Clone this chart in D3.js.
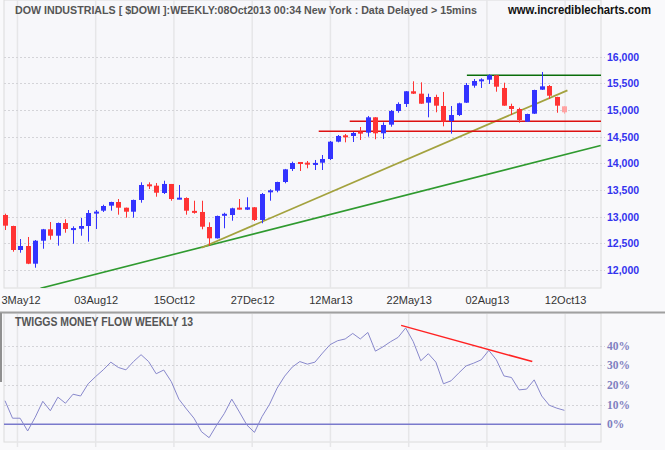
<!DOCTYPE html>
<html>
<head>
<meta charset="utf-8">
<script src="https://cdn.jsdelivr.net/npm/d3@7"></script>
<style>
  html, body { margin: 0; padding: 0; background: #f9f9fb; }
  svg { display: block; }
</style>
</head>
<body>
<div id="chart"></div>
<script>
// ---------- DATA (weekly candles, index 0 = first visible week) ----------
const opens  = [13031,12825,12375,12450,12118,12549,12763,12643,12881,12760,
                12774,12825,13070,13112,13206,13275,13168,13093,13313,13594,
                13581,13444,13613,13331,13350,13106,13088,12806,12594,13026,
                13031,13163,13131,13176,12938,13463,13487,13650,13894,14012,
                14001,13985,14012,14081,14406,14513,14513,14580,14575,14863,
                14563,14725,14981,15113,15351,15306,15137,15244,15075,14794,
                14906,15137,15456,15549,15568,15651,15413,15075,15019,14781,
                14931,15381,15450,15244,15069];
const highs  = [13056,12830,12581,12619,12562,12770,12900,12890,12951,12819,
                12975,13125,13125,13224,13280,13331,13170,13320,13644,13644,
                13631,13674,13613,13594,13363,13299,13299,12894,13020,13074,
                13168,13331,13363,13180,13444,13513,13655,13895,14031,14025,
                14044,14063,14156,14419,14531,14550,14588,14681,14888,14865,
                14769,15000,15144,15355,15538,15519,15306,15287,15338,15075,
                15137,15506,15581,15594,15669,15655,15512,15118,15043,14930,
                15380,15713,15469,15248,15069];
const lows   = [12750,12343,12324,12110,12043,12399,12568,12456,12699,12493,
                12643,12531,12769,13088,13112,13037,12981,12981,13262,13519,
                13374,13425,13299,13326,13037,13056,12763,12456,12590,12782,
                12924,13131,13125,12919,12876,13299,13457,13626,13856,13856,
                13907,13875,13875,14063,14394,14394,14400,14438,14500,14451,
                14456,14687,14949,15056,15300,15115,14863,14957,14694,14556,
                14888,15131,15418,15413,15488,15343,15078,14906,14762,14775,
                14925,15375,15206,14949,14931];
const closes = [12831,12375,12450,12118,12549,12763,12643,12881,12769,12775,
                12825,13069,13082,13200,13275,13168,13093,13313,13594,13581,
                13449,13613,13331,13344,13112,13074,12812,12594,13013,13044,
                13157,13138,13176,12938,13425,13487,13650,13888,14006,14001,
                13987,13993,14081,14406,14513,14500,14569,14570,14863,14563,
                14719,14981,15113,15351,15306,15118,15244,15081,14781,14906,
                15126,15469,15544,15563,15651,15437,15081,15019,14813,14925,
                15375,15444,15268,15081,14957];
const lastBarPartial = true;

// Twiggs Money Flow (13 week), percent
const moneyFlow = [12.0,3.1,3.1,-3.4,3.6,11.7,6.9,13.8,10.7,15.3,
                   14.4,20.6,24.3,27.7,31.6,28.9,27.7,31.9,35.4,31.9,
                   25.7,27.6,21.7,12.8,7.8,3.1,-3.8,-6.8,-0.4,5.4,
                   12.8,6.3,-0.4,-4.1,3.9,10.2,18.4,24.5,29.1,31.9,
                   30.6,31.6,36.2,40.5,42.5,43.4,46.2,43.4,46.7,37.2,
                   39.4,42.0,44.2,49.0,42.1,32.3,35.9,31.6,20.6,22.1,
                   26.0,29.7,31.1,32.8,37.6,32.8,24.6,23.8,17.5,17.9,
                   22.6,14.4,9.7,8.2,7.1];

// axis ticks
const xTickIdx    = [1.65, 12.0, 22.35, 32.7, 43.05, 53.4, 63.75, 74.1];
const xTickLabels = ["3May12","03Aug12","15Oct12","27Dec12","12Mar13","22May13","02Aug13","12Oct13"];
const priceTicks  = [12000,12500,13000,13500,14000,14500,15000,15500,16000];
const mfTicks     = [0,10,20,30,40];

// drawn annotations (index, value)
const oliveTrend  = [[26.0,12418],[74.4,15369]];
const greenTrend  = [[4.7,11657],[78.8,14334]];
const levelStarts = [61.1, 45.6, 41.5];
const levelPrices = [15651, 14788, 14600];
const mfTrend     = [[52.4,50.3],[69.75,31.9]];

// ---------- LAYOUT ----------
const W = 665, H = 450;
const left = 4, right = 601;
const topY0 = 0, topY1 = 288;
const lowY0 = 313, lowY1 = 442;

const svg = d3.select("#chart").append("svg")
  .attr("width", W).attr("height", H)
  .style("background", "#f9f9fb");

const x = d3.scaleLinear().domain([-0.13, 78.84]).range([left, right]);
const y = d3.scaleLinear().domain([11662.5, 17062.5]).range([topY1, topY0]);
const y2 = d3.scaleLinear().domain([-9, 56.6]).range([lowY1, lowY0]);

const defs = svg.append("defs");
defs.append("clipPath").attr("id", "clipTop").append("rect")
  .attr("x", left).attr("y", topY0).attr("width", right - left).attr("height", topY1 - topY0);
defs.append("clipPath").attr("id", "clipLow").append("rect")
  .attr("x", left).attr("y", lowY0).attr("width", right - left).attr("height", lowY1 - lowY0);

// ---------- TOP PANEL ----------
svg.append("rect").attr("x", left).attr("y", topY0)
  .attr("width", right - left).attr("height", topY1 - topY0)
  .attr("fill", "#f7f7fa").attr("stroke", "#dcdcdc");

// vertical grid
svg.append("g").selectAll("line").data(xTickIdx).join("line")
  .attr("x1", d => x(d)).attr("x2", d => x(d))
  .attr("y1", topY0).attr("y2", topY1)
  .attr("stroke", "#e6e6e8").attr("stroke-width", 1.5);

// horizontal grid + right axis
const yAxis = d3.axisRight(y).tickValues(priceTicks)
  .tickFormat(d3.format(",")).tickSize(0).tickPadding(6);
const yAxisG = svg.append("g").attr("transform", `translate(${right},0)`).call(yAxis);
yAxisG.select(".domain").remove();
yAxisG.selectAll("text")
  .attr("fill", "#3333ee").style("font-family", "'Liberation Sans', Arial, sans-serif")
  .style("font-size", "10.5px").style("font-weight", "bold");
svg.append("g").selectAll("line").data(priceTicks).join("line")
  .attr("x1", left).attr("x2", right + 4)
  .attr("y1", d => Math.round(y(d)) + 0.5).attr("y2", d => Math.round(y(d)) + 0.5)
  .attr("stroke", "#d4d4d8").attr("stroke-dasharray", "2,2");

// trendlines
const lineGen = d3.line().x(d => x(d[0])).y(d => y(d[1]));
const trendG = svg.append("g").attr("clip-path", "url(#clipTop)");
trendG.append("path").datum(greenTrend).attr("d", lineGen)
  .attr("fill", "none").attr("stroke", "#2f9a2f").attr("stroke-width", 1.6);
trendG.append("path").datum(oliveTrend).attr("d", lineGen)
  .attr("fill", "none").attr("stroke", "#a3a23e").attr("stroke-width", 1.8);

// horizontal support / resistance lines
const levelColors = ["#0a6e0a", "#dd1111", "#dd1111"];
trendG.selectAll("line.level").data(levelPrices).join("line")
  .attr("class", "level")
  .attr("x1", (d, i) => x(levelStarts[i])).attr("x2", right)
  .attr("y1", d => y(d)).attr("y2", d => y(d))
  .attr("stroke", (d, i) => levelColors[i]).attr("stroke-width", 1.5);

// candles
const idx = d3.range(opens.length);
const upCol = "#3333ff", dnCol = "#ff3333", partialCol = "#ffa3a3";
const colOf = i => (lastBarPartial && i === opens.length - 1) ? partialCol
                 : (closes[i] >= opens[i] ? upCol : dnCol);
const candleG = svg.append("g");
candleG.selectAll("line.wick").data(idx).join("line")
  .attr("class", "wick")
  .attr("x1", i => Math.round(x(i)) + 0.5).attr("x2", i => Math.round(x(i)) + 0.5)
  .attr("y1", i => y(highs[i])).attr("y2", i => y(lows[i]))
  .attr("stroke", colOf).attr("stroke-width", 1);
const bw = 5;
candleG.selectAll("rect.body").data(idx).join("rect")
  .attr("class", "body")
  .attr("x", i => Math.round(x(i)) + 0.5 - bw / 2)
  .attr("width", bw)
  .attr("y", i => {
    const t = y(Math.max(opens[i], closes[i])), b = y(Math.min(opens[i], closes[i]));
    return (b - t < 2) ? (t + b) / 2 - 1 : t;
  })
  .attr("height", i => Math.max(2, y(Math.min(opens[i], closes[i])) - y(Math.max(opens[i], closes[i]))))
  .attr("fill", colOf);

// x-axis labels
const xAxis = d3.axisBottom(x).tickValues(xTickIdx)
  .tickFormat((d, i) => xTickLabels[i]).tickSize(0).tickPadding(6);
const xAxisG = svg.append("g").attr("transform", `translate(0,${topY1 + 2})`).call(xAxis);
xAxisG.select(".domain").remove();
xAxisG.selectAll("text").attr("fill", "#333")
  .style("font-family", "'Liberation Sans', Arial, sans-serif").style("font-size", "11px");
// keep labels inside the picture
xAxisG.selectAll(".tick").each(function(d) {
  const t = d3.select(this).select("text");
  const bb = t.node().getBBox();
  const absLeft = x(d) + bb.x;
  if (absLeft < 1) t.attr("dx", (1 - absLeft) + "px");
});

// title
svg.append("text").attr("x", 15).attr("y", 14)
  .attr("textLength", 462).attr("lengthAdjust", "spacingAndGlyphs")
  .attr("fill", "#555").style("font-family", "'Liberation Sans', Arial, sans-serif")
  .style("font-size", "11px").style("font-weight", "bold")
  .text("DOW INDUSTRIALS [ $DOWI ]:WEEKLY:08Oct2013 00:34 New York : Data Delayed > 15mins");
svg.append("text").attr("x", 508).attr("y", 14)
  .attr("textLength", 143).attr("lengthAdjust", "spacingAndGlyphs")
  .attr("fill", "#111").style("font-family", "'Liberation Sans', Arial, sans-serif")
  .style("font-size", "12px").style("font-weight", "bold")
  .text("www.incrediblecharts.com");

// ---------- LOWER PANEL ----------
svg.append("rect").attr("x", left).attr("y", lowY0)
  .attr("width", right - left).attr("height", lowY1 - lowY0)
  .attr("fill", "#f7f7fa").attr("stroke", "#dcdcdc");
svg.append("g").selectAll("line").data(xTickIdx).join("line")
  .attr("x1", d => x(d)).attr("x2", d => x(d))
  .attr("y1", lowY0).attr("y2", H - 3)
  .attr("stroke", "#e6e6e8").attr("stroke-width", 1.5);
svg.append("g").selectAll("line").data(mfTicks.filter(d => d !== 0)).join("line")
  .attr("x1", left).attr("x2", right + 4)
  .attr("y1", d => Math.round(y2(d)) + 0.5).attr("y2", d => Math.round(y2(d)) + 0.5)
  .attr("stroke", "#d4d4d8").attr("stroke-dasharray", "2,2");
// zero line
svg.append("line").attr("x1", left).attr("x2", right)
  .attr("y1", y2(0)).attr("y2", y2(0))
  .attr("stroke", "#7a7acc").attr("stroke-width", 1.5);

const y2Axis = d3.axisRight(y2).tickValues(mfTicks)
  .tickFormat(d => d + "%").tickSize(0).tickPadding(6);
const y2AxisG = svg.append("g").attr("transform", `translate(${right},0)`).call(y2Axis);
y2AxisG.select(".domain").remove();
y2AxisG.selectAll("text").attr("fill", "#8080c0")
  .style("font-family", "'Liberation Serif', 'Times New Roman', serif")
  .style("font-size", "11.5px").style("font-weight", "bold");

const mfLine = d3.line().x((d, i) => x(i)).y(d => y2(d));
const lowG = svg.append("g").attr("clip-path", "url(#clipLow)");
lowG.append("path").datum(moneyFlow).attr("d", mfLine)
  .attr("fill", "none").attr("stroke", "#8888cc").attr("stroke-width", 1);
lowG.append("path").datum(mfTrend)
  .attr("d", d3.line().x(d => x(d[0])).y(d => y2(d[1])))
  .attr("fill", "none").attr("stroke", "#ff2222").attr("stroke-width", 1.5);

// separator and frame
svg.append("line").attr("x1", 0).attr("x2", W).attr("y1", lowY0 - 0.5).attr("y2", lowY0 - 0.5)
  .attr("stroke", "#a0a0a0").attr("stroke-width", 2);
svg.append("line").attr("x1", 1).attr("x2", 1).attr("y1", lowY0).attr("y2", 382)
  .attr("stroke", "#909090").attr("stroke-width", 2);

svg.append("text").attr("x", 15).attr("y", 326)
  .attr("textLength", 178).attr("lengthAdjust", "spacingAndGlyphs")
  .attr("fill", "#555").style("font-family", "'Liberation Sans', Arial, sans-serif")
  .style("font-size", "12px").style("font-weight", "bold")
  .text("TWIGGS MONEY FLOW WEEKLY 13");
</script>
</body>
</html>
